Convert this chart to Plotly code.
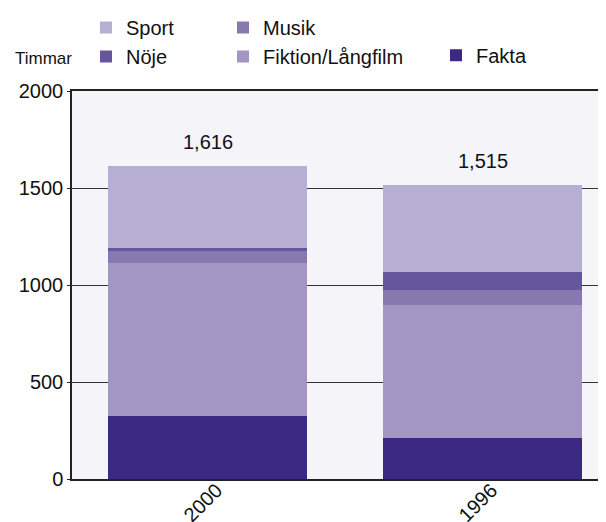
import plotly.graph_objects as go

categories = ["2000", "1996"]
fakta = [326, 212]
fiktion = [788, 685]
musik = [66, 76]
noje = [9, 92]
sport = [427, 450]
totals = [1616, 1515]
total_labels = ["1,616", "1,515"]
y_ticks = [0, 500, 1000, 1500, 2000]

series = [
    ("Fakta", fakta, "#3b2883", "legend3"),
    ("Fiktion/Långfilm", fiktion, "#a396c5", "legend2"),
    ("Musik", musik, "#8778b0", "legend2"),
    ("Nöje", noje, "#66569e", "legend"),
    ("Sport", sport, "#b7aed3", "legend"),
]

FONT = "Liberation Sans, Arial, sans-serif"

fig = go.Figure()
for name, vals, color, lg in series:
    fig.add_trace(go.Bar(x=categories, y=vals, name=name, marker_color=color,
                         marker_line_width=0, legend=lg))

for i, (t, lab) in enumerate(zip(totals, total_labels)):
    fig.add_annotation(x=i, y=t, text=lab, showarrow=False, yanchor="bottom",
                       yshift=11, font=dict(size=20, color="#111", family=FONT))

fig.add_annotation(x=-0.1105, y=1.085, xref="paper", yref="paper", text="Timmar",
                   showarrow=False, xanchor="left", yanchor="middle",
                   font=dict(size=17, color="#111", family=FONT))

legend_common = dict(orientation="v", xref="container", yref="container",
                     xanchor="left", yanchor="top", traceorder="reversed",
                     tracegroupgap=0, bgcolor="rgba(0,0,0,0)",
                     font=dict(size=20, color="#111", family=FONT))

fig.update_layout(
    width=606, height=522,
    margin=dict(l=64, r=8, t=83, b=51, autoexpand=False),
    barmode="stack", bargap=0.276,
    paper_bgcolor="white", plot_bgcolor="#f4f4f9",
    font=dict(family=FONT, size=20, color="#111"),
    legend=dict(x=0.1287, y=1.008, **legend_common),
    legend2=dict(x=0.3548, y=1.008, **legend_common),
    legend3=dict(x=0.7063, y=0.947, **legend_common),
    xaxis=dict(type="category", range=[-0.4927, 1.449], tickangle=-45, showline=True,
               mirror=True, linecolor="#222", linewidth=1.5, ticks="", showgrid=False,
               automargin=False, ticklabelstandoff=-10, ticklabelshift=9,
               tickfont=dict(size=20, family=FONT, color="#111")),
    yaxis=dict(range=[0, 2000], tickvals=y_ticks, showline=True, linecolor="#222",
               linewidth=1.5, ticks="outside", ticklen=3, tickcolor="#222",
               showgrid=True, gridcolor="#333", gridwidth=1, zeroline=False,
               automargin=False,
               tickfont=dict(size=20, family=FONT, color="#111")),
)

fig.write_html("out.html")
